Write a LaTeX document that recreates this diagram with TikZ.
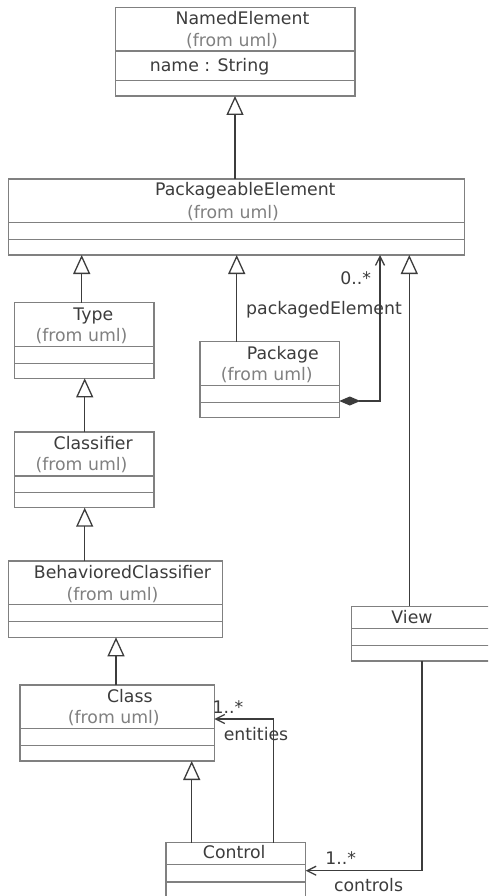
\documentclass[tikz,border=0pt]{standalone}
\usepackage{fontspec}
\setmainfont{DejaVu Sans}
\usetikzlibrary{arrows.meta}
\definecolor{boxgray}{RGB}{128,128,128}
\definecolor{ink}{RGB}{60,60,60}

\begin{document}
\begin{tikzpicture}[x=1pt, y=-1pt,
        font=\fontsize{17.3}{20}\selectfont,
        cls/.style={draw=boxgray, line width=1.3pt, inner sep=0pt, outer sep=0pt, anchor=north west},
        sep/.style={draw=boxgray, line width=1.3pt},
        title/.style={anchor=base, inner sep=0pt, text=ink},
        from/.style={anchor=base, inner sep=0pt, text=boxgray},
        lbl/.style={anchor=base, inner sep=0pt, text=ink},
        gen/.style={draw=ink, line width=1.3pt, -{Triangle[open, length=19pt, width=17pt, line width=1.3pt]}},
        assoc/.style={draw=ink, line width=1.3pt, -{Straight Barb[length=9pt, width=9pt, line width=1.3pt]}},
        comp/.style={draw=ink, line width=1.3pt, {Diamond[length=21pt, width=9pt, fill=ink]}-{Straight Barb[length=9pt, width=9pt, line width=1.3pt]}}]
        \useasboundingbox (0,0) rectangle (488,896);
        \fill[white] (0,0) rectangle (488,896);
        \clip (0,0) rectangle (488,896);
        % classes
        \node [cls, minimum width=239.7, minimum height=88.7] (ne) at (115.3,7.3) {};
        \node [cls, minimum width=456, minimum height=76] (pe) at (8.3,179) {};
        \node [cls, minimum width=139.7, minimum height=75.6] (type) at (14.3,302.7) {};
        \node [cls, minimum width=139.7, minimum height=75.7] (classifier) at (14.3,432) {};
        \node [cls, minimum width=139.3, minimum height=76] (package) at (200,341.7) {};
        \node [cls, minimum width=214.4, minimum height=76.3] (bc) at (8.3,561) {};
        \node [cls, minimum width=194.3, minimum height=76] (class) at (20,685) {};
        \node [cls, minimum width=148.3, minimum height=54.7] (view) at (351.7,606.3) {};
        \node [cls, minimum width=139.7, minimum height=57.3] (control) at (166,842.7) {};
        % compartments
        \draw[sep] (ne.west |- 0,51) -- (ne.east |- 0,51) (ne.west |- 0,80.3) -- (ne.east |- 0,80.3);
        \draw[sep] (pe.west |- 0,222.7) -- (pe.east |- 0,222.7) (pe.west |- 0,239.3) -- (pe.east |- 0,239.3);
        \draw[sep] (type.west |- 0,346.3) -- (type.east |- 0,346.3) (type.west |- 0,363.3) -- (type.east |- 0,363.3);
        \draw[sep] (classifier.west |- 0,476) -- (classifier.east |- 0,476) (classifier.west |- 0,492.3) -- (classifier.east |- 0,492.3);
        \draw[sep] (package.west |- 0,385.7) -- (package.east |- 0,385.7) (package.west |- 0,402.7) -- (package.east |- 0,402.7);
        \draw[sep] (bc.west |- 0,604.7) -- (bc.east |- 0,604.7) (bc.west |- 0,621.3) -- (bc.east |- 0,621.3);
        \draw[sep] (class.west |- 0,728.7) -- (class.east |- 0,728.7) (class.west |- 0,745.3) -- (class.east |- 0,745.3);
        \draw[sep] (view.west |- 0,628.7) -- (view.east |- 0,628.7) (view.west |- 0,645.7) -- (view.east |- 0,645.7);
        \draw[sep] (control.west |- 0,864.3) -- (control.east |- 0,864.3) (control.west |- 0,882) -- (control.east |- 0,882);
        % names
        \node [title] (ne-t) at (242.5,24.3) {NamedElement};
        \node [from] (ne-f) at (232,46.7) {(from uml)};
        \node [lbl, anchor=base west] (ne-a) at (149.7,71.7) {name : String};
        \node [title] (pe-t) at (245.3,196) {PackageableElement};
        \node [from] (pe-f) at (233,218.3) {(from uml)};
        \node [title] (type-t) at (93.3,320.3) {Type};
        \node [from] (type-f) at (81.5,341.7) {(from uml)};
        \node [title] (classifier-t) at (93.2,449.3) {Classifier};
        \node [from] (classifier-f) at (81.5,470.7) {(from uml)};
        \node [title] (package-t) at (282.8,359.3) {Package};
        \node [from] (package-f) at (266.8,380.7) {(from uml)};
        \node [title] (bc-t) at (122.5,578.7) {BehavioredClassifier};
        \node [from] (bc-f) at (112.5,600.7) {(from uml)};
        \node [title] (class-t) at (129.8,702.7) {Class};
        \node [from] (class-f) at (113.8,723.3) {(from uml)};
        \node [title] (view-t) at (412,623.3) {View};
        \node [title] (control-t) at (234.2,858.3) {Control};
        % generalizations
        \draw[gen] (pe.north -| 235,0) -- (ne.south -| 235,0);
        \draw[gen] (type.north -| 81.7,0) -- (pe.south -| 81.7,0);
        \draw[gen] (package.north -| 236.7,0) -- (pe.south -| 236.7,0);
        \draw[gen] (view.north -| 409.3,0) -- (pe.south -| 409.3,0);
        \draw[gen] (classifier.north -| 84.7,0) -- (type.south -| 84.7,0);
        \draw[gen] (bc.north -| 84.7,0) -- (classifier.south -| 84.7,0);
        \draw[gen] (class.north -| 116,0) -- (bc.south -| 116,0);
        \draw[gen] (control.north -| 191.7,0) -- (class.south -| 191.7,0);
        % associations
        \draw[comp] (package.east |- 0,401) -| (pe.south -| 380,0);
        \draw[assoc] (control.north -| 273.3,0) |- (class.east |- 0,719);
        \draw[assoc] (view.south -| 422,0) |- (control.east |- 0,870.7);
        \node [lbl] (pkg-m) at (355.7,284.7) {0..*};
        \node [lbl] (pkg-r) at (324,314.3) {packagedElement};
        \node [lbl] (ent-m) at (228,713.3) {1..*};
        \node [lbl] (ent-r) at (256,740) {entities};
        \node [lbl] (ctl-m) at (340.7,864.3) {1..*};
        \node [lbl] (ctl-r) at (368.5,891.7) {controls};
    \end{tikzpicture}
\end{document}
